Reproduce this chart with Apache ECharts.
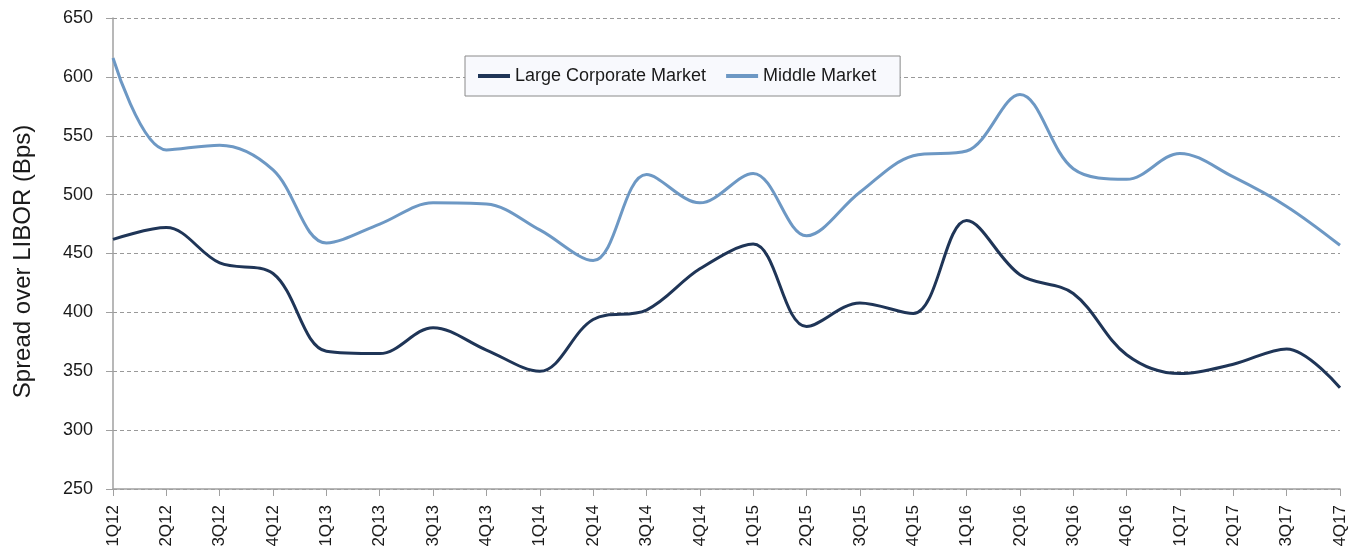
<!DOCTYPE html>
<html>
<head>
<meta charset="utf-8">
<script src="https://cdn.jsdelivr.net/npm/echarts@6/dist/echarts.min.js"></script>
<style>
    html, body {margin: 0; padding: 0; background: #fff;}
    #chart {width: 1352px; height: 550px;}
</style>
</head>
<body>
<div id="chart"></div>
<script>
const quarters = ['1Q12','2Q12','3Q12','4Q12','1Q13','2Q13','3Q13','4Q13',
    '1Q14','2Q14','3Q14','4Q14','1Q15','2Q15','3Q15','4Q15',
    '1Q16','2Q16','3Q16','4Q16','1Q17','2Q17','3Q17','4Q17'];

const largeCorporate = [462, 472, 442, 433, 367, 365, 387, 368,
    350, 394, 402, 437, 458, 388, 408, 399,
    478, 432, 416, 364, 348, 356, 369, 336];

const middleMarket = [616, 538, 542, 521, 459, 475, 493, 492,
    470, 444, 517, 493, 518, 465, 502, 533,
    537, 585, 522, 513, 535, 515, 490, 457];

const textColor = '#1a1a1a';
const axisGray = '#a0a0a0';

let chart = echarts.init(document.getElementById('chart'));
let option = {
    animation: false,
    textStyle: {fontFamily: 'Liberation Sans, Arial, sans-serif'},
    grid: {
        left: 113,
        right: 12,
        top: 18,
        bottom: 61
    },
    legend: {
        left: 465,
        top: 56,
        padding: [11, 24, 11, 13],
        itemGap: 20,
        itemWidth: 32,
        itemHeight: 4,
        icon: 'rect',
        backgroundColor: '#f8f9fd',
        borderColor: '#8a8a8a',
        borderWidth: 1,
        textStyle: {fontSize: 18, color: textColor},
        data: ['Large Corporate Market', 'Middle Market']
    },
    xAxis: {
        type: 'category',
        data: quarters,
        boundaryGap: false,
        axisLine: {lineStyle: {color: axisGray, width: 1.5}},
        axisTick: {length: 7, lineStyle: {color: axisGray}},
        axisLabel: {rotate: 90, fontSize: 17, color: textColor, margin: 16, interval: 0}
    },
    yAxis: {
        type: 'value',
        min: 250,
        max: 650,
        interval: 50,
        name: 'Spread over LIBOR (Bps)',
        nameLocation: 'middle',
        nameRotate: 90,
        nameGap: 78,
        nameTextStyle: {fontSize: 24, color: textColor, padding: [0, 16, 0, 0]},
        axisLine: {show: true, lineStyle: {color: axisGray, width: 1.5}},
        axisTick: {show: true, length: 7, lineStyle: {color: axisGray}},
        axisLabel: {fontSize: 18, color: textColor, margin: 20},
        splitLine: {lineStyle: {color: '#999', type: [4, 3], width: 1}}
    },
    series: [
        {
            name: 'Large Corporate Market',
            type: 'line',
            data: largeCorporate,
            smooth: 0.35,
            symbol: 'none',
            itemStyle: {color: '#1f3557'},
            lineStyle: {color: '#1f3557', width: 3}
        },
        {
            name: 'Middle Market',
            type: 'line',
            data: middleMarket,
            smooth: 0.35,
            symbol: 'none',
            itemStyle: {color: '#6d98c4'},
            lineStyle: {color: '#6d98c4', width: 3}
        }
    ]
};
chart.setOption(option);
</script>
</body>
</html>
